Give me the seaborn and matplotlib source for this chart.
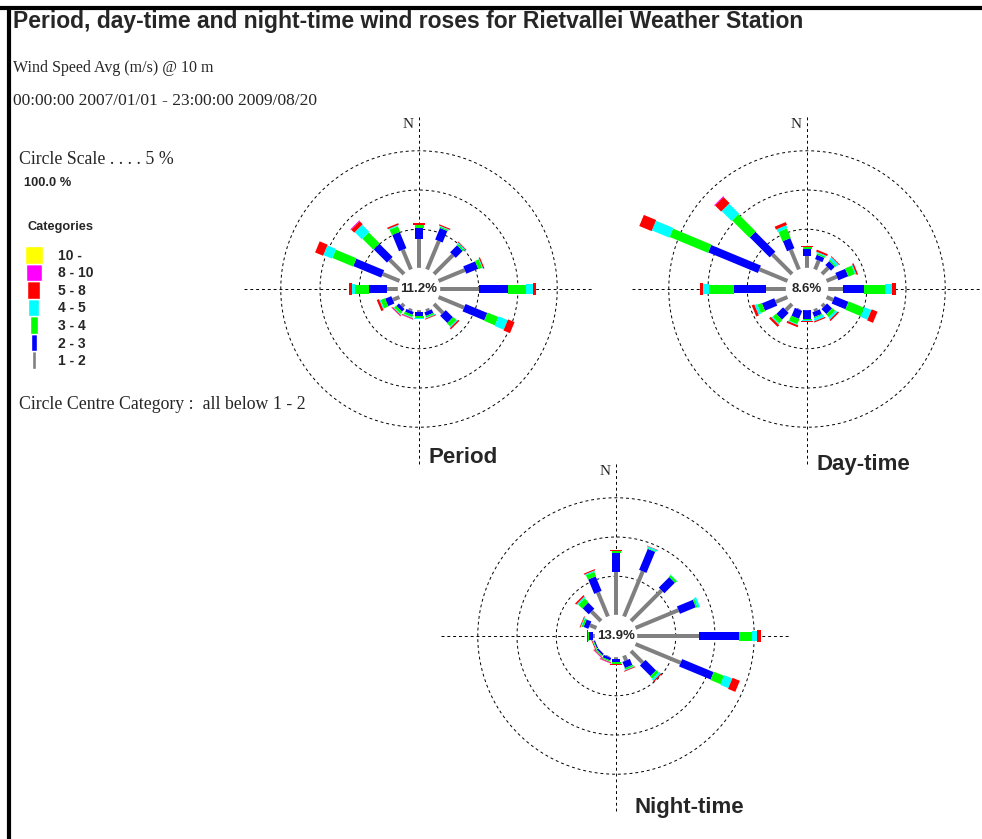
import numpy as np
import matplotlib
matplotlib.use("Agg")
import matplotlib.pyplot as plt
import seaborn as sns

# ---- data ---------------------------------------------------------------
directions = ["N", "NNE", "NE", "ENE", "E", "ESE", "SE", "SSE",
              "S", "SSW", "SW", "WSW", "W", "WNW", "NW", "NNW"]
speed_classes = ["1 - 2", "2 - 3", "3 - 4", "4 - 5", "5 - 8", "8 - 10", "10 -"]
class_colours = ["#808080", "#0000ff", "#00ff00", "#00ffff",
                 "#ff0000", "#ff00ff", "#ffff00"]

# frequency (%) per direction, columns follow speed_classes
period_pct = [
    [3.70, 1.50, 0.30, 0.10, 0.15, 0.00, 0.0],
    [4.00, 1.60, 0.15, 0.10, 0.15, 0.00, 0.0],
    [3.50, 1.25, 0.20, 0.15, 0.10, 0.00, 0.0],
    [3.70, 1.65, 0.50, 0.10, 0.15, 0.00, 0.0],
    [5.00, 3.70, 2.30, 0.85, 0.45, 0.00, 0.0],
    [3.60, 3.00, 1.50, 1.25, 0.90, 0.00, 0.0],
    [1.70, 1.30, 0.55, 0.15, 0.20, 0.00, 0.0],
    [0.40, 0.50, 0.20, 0.10, 0.10, 0.00, 0.0],
    [0.35, 0.42, 0.30, 0.10, 0.10, 0.00, 0.0],
    [0.35, 0.40, 0.30, 0.10, 0.10, 0.05, 0.0],
    [0.50, 0.45, 0.35, 0.10, 0.10, 0.05, 0.0],
    [1.00, 0.85, 0.60, 0.15, 0.30, 0.00, 0.0],
    [1.50, 2.30, 1.70, 0.40, 0.35, 0.00, 0.0],
    [2.40, 3.85, 2.85, 1.20, 1.10, 0.00, 0.0],
    [2.65, 2.40, 1.95, 1.30, 0.55, 0.10, 0.0],
    [2.80, 2.25, 0.75, 0.15, 0.20, 0.00, 0.0],
]
day_pct = [
    [1.56, 0.94, 0.25, 0.05, 0.10, 0.00, 0.0],
    [1.30, 0.60, 0.20, 0.15, 0.25, 0.00, 0.0],
    [1.20, 0.70, 0.20, 0.35, 0.10, 0.00, 0.0],
    [1.50, 1.37, 0.90, 0.15, 0.20, 0.00, 0.0],
    [1.95, 2.73, 2.60, 1.00, 0.45, 0.00, 0.0],
    [1.00, 1.90, 2.15, 0.95, 0.80, 0.00, 0.0],
    [0.50, 0.90, 0.50, 0.30, 0.20, 0.00, 0.0],
    [0.40, 0.65, 0.15, 0.35, 0.15, 0.00, 0.0],
    [0.10, 1.15, 0.15, 0.10, 0.10, 0.00, 0.0],
    [0.20, 1.10, 0.70, 0.10, 0.25, 0.00, 0.0],
    [1.20, 1.20, 0.60, 0.15, 0.30, 0.00, 0.0],
    [1.70, 1.70, 0.60, 0.35, 0.35, 0.00, 0.0],
    [2.60, 4.15, 3.15, 0.80, 0.35, 0.00, 0.0],
    [3.95, 6.85, 5.30, 2.40, 1.70, 0.00, 0.0],
    [3.60, 3.60, 3.10, 1.80, 1.10, 0.10, 0.0],
    [2.80, 1.40, 1.30, 0.40, 0.40, 0.00, 0.0],
]
night_pct = [
    [5.50, 2.45, 0.25, 0.05, 0.15, 0.00, 0.0],
    [6.30, 2.90, 0.10, 0.20, 0.05, 0.00, 0.0],
    [5.60, 1.90, 0.30, 0.05, 0.00, 0.00, 0.0],
    [6.00, 2.20, 0.20, 0.30, 0.00, 0.00, 0.0],
    [8.00, 5.10, 1.55, 0.75, 0.45, 0.00, 0.0],
    [6.30, 4.35, 1.40, 1.10, 1.00, 0.00, 0.0],
    [2.20, 1.90, 0.40, 0.30, 0.15, 0.00, 0.0],
    [0.75, 0.85, 0.20, 0.10, 0.10, 0.00, 0.0],
    [0.30, 0.45, 0.15, 0.05, 0.10, 0.00, 0.0],
    [0.20, 0.35, 0.15, 0.05, 0.10, 0.05, 0.0],
    [0.10, 0.25, 0.15, 0.05, 0.10, 0.05, 0.0],
    [0.05, 0.20, 0.10, 0.05, 0.10, 0.00, 0.0],
    [0.35, 0.45, 0.10, 0.05, 0.15, 0.00, 0.0],
    [1.00, 0.65, 0.25, 0.10, 0.10, 0.00, 0.0],
    [1.80, 1.10, 0.70, 0.20, 0.20, 0.00, 0.0],
    [3.40, 2.00, 0.60, 0.15, 0.15, 0.00, 0.0],
]
calm_pct = {"Period": 11.2, "Day-time": 8.6, "Night-time": 13.9}
ring_pcts = [5, 10, 15]

# ---- layout (pixels) ----------------------------------------------------
W, H = 982, 839
PX = 7.85            # pixels per percent
R0 = 20.5 / PX       # radius of calm circle in % units
bar_px = [4, 8, 9, 10.5, 12, 13, 14]
legend_px = [4.3, 6.7, 8.7, 11, 13, 15.3, 17.7]


def fx(x):
    return x / W


def fy(y):
    return 1 - y / H


sns.set_style("white")
plt.rcParams["font.family"] = ["Liberation Sans", "DejaVu Sans"]
SERIF = "Liberation Serif"

fig = plt.figure(figsize=(W / 100, H / 100), dpi=100)


def draw_rose(cx, cy, pct, name, name_xy):
    half = 180
    ax = fig.add_axes([fx(cx - half), fy(cy + half), 2 * half / W, 2 * half / H])
    lim = half / PX
    ax.set_xlim(-lim, lim)
    ax.set_ylim(-lim, lim)
    ax.set_aspect("equal")
    ax.axis("off")
    dash = dict(color="black", lw=0.7, ls=(0, (3, 3)), zorder=1)
    t = np.linspace(0, 2 * np.pi, 400)
    for ring in ring_pcts:
        ax.plot((R0 + ring) * np.cos(t), (R0 + ring) * np.sin(t), **dash)
    arm = 175 / PX
    ax.plot([-arm, arm], [0, 0], **dash)
    ax.plot([0, 0], [-arm, arm], **dash)

    pct = np.asarray(pct)
    for i in range(len(directions)):
        phi = np.deg2rad(90 - 22.5 * i)
        u = np.array([np.cos(phi), np.sin(phi)])
        v = np.array([-u[1], u[0]])
        edges = R0 + np.concatenate([[0], np.cumsum(pct[i])])
        for k in range(len(speed_classes)):
            if pct[i, k] <= 0:
                continue
            hw = bar_px[k] / PX / 2
            a, b = edges[k], edges[k + 1]
            pts = np.array([a * u + hw * v, b * u + hw * v,
                            b * u - hw * v, a * u - hw * v])
            ax.fill(pts[:, 0], pts[:, 1], color=class_colours[k], lw=0, zorder=2 + k)

    ax.add_patch(plt.Circle((0, 0), R0, color="white", zorder=20))
    ax.text(0, 0, f"{calm_pct[name]}%", ha="center", va="center",
            fontsize=9.5, fontweight="bold", zorder=21)
    ax.text(-1.4, lim - 8 / PX - 0.1, "N", ha="center", va="top",
            fontsize=11, family=SERIF, zorder=21)
    fig.text(fx(name_xy[0]), fy(name_xy[1]), name, fontsize=16,
             fontweight="bold", ha="left", va="baseline")


draw_rose(419, 289, period_pct, "Period", (428, 463))
draw_rose(807, 289, day_pct, "Day-time", (817, 470))
draw_rose(616, 636, night_pct, "Night-time", (635, 813))

# ---- legend -------------------------------------------------------------
lax = fig.add_axes([fx(20), fy(369), 100 / W, 123 / H])
lax.set_xlim(-13.9, 86.1)
lax.set_ylim(0, len(speed_classes))
lax.axis("off")
for k, lab in enumerate(speed_classes):
    lax.bar(0, 1, width=legend_px[k], bottom=k, color=class_colours[k], align="center")
    lax.text(24.1, k + 0.22, lab, fontsize=10, fontweight="bold", va="baseline")

# ---- texts --------------------------------------------------------------
fig.text(fx(13), fy(28), "Period, day-time and night-time wind roses for Rietvallei Weather Station",
         fontsize=16.5, fontweight="bold", va="baseline")
fig.text(fx(13), fy(72), "Wind Speed Avg (m/s) @ 10 m", fontsize=11.5, family=SERIF, va="baseline")
fig.text(fx(13), fy(105), "00:00:00 2007/01/01 - 23:00:00 2009/08/20", fontsize=12.5,
         family=SERIF, va="baseline")
fig.text(fx(19), fy(164), "Circle Scale . . . . 5 %", fontsize=12.8, family=SERIF, va="baseline")
fig.text(fx(24), fy(186), "100.0 %", fontsize=9.3, fontweight="bold", va="baseline")
fig.text(fx(28), fy(230), "Categories", fontsize=9.2, fontweight="bold", va="baseline")
fig.text(fx(19), fy(409), "Circle Centre Category :  all below 1 - 2", fontsize=12.8,
         family=SERIF, va="baseline")

# frame lines
fig.add_artist(plt.Line2D([0, 1], [fy(8), fy(8)], lw=3, color="black",
                          transform=fig.transFigure))
fig.add_artist(plt.Line2D([fx(9), fx(9)], [fy(8), 0], lw=3, color="black",
                          transform=fig.transFigure))

fig.savefig("out.png", dpi=100)
